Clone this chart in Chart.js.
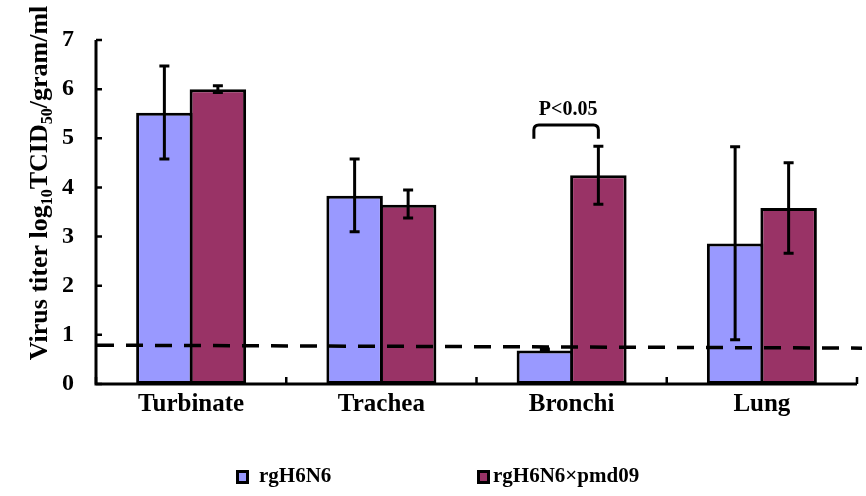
<!DOCTYPE html>
<html>
<head>
<meta charset="utf-8">
<title>Virus titer</title>
<script src="https://cdn.jsdelivr.net/npm/chart.js@4.4.1/dist/chart.umd.min.js"></script>
<style>
  html, body { margin: 0; padding: 0; background: #fff; }
  canvas { display: block; }
</style>
</head>
<body>
<canvas id="titerChart" width="866" height="496"></canvas>
<script>
// data
const categories = ["Turbinate", "Trachea", "Bronchi", "Lung"];
const seriesNames = ["rgH6N6", "rgH6N6\u00d7pmd09"];

const rgH6N6 = [5.52, 3.83, 0.68, 2.86];
const rgH6N6Low = [4.58, 3.10, 0.66, 0.90];
const rgH6N6High = [6.47, 4.58, 0.71, 4.83];

const pmd09 = [6.00, 3.65, 4.25, 3.58];
const pmd09Low = [5.93, 3.38, 3.66, 2.66];
const pmd09High = [6.07, 3.95, 4.84, 4.50];

// detection limit line (left end, right end)
const detectionLimit = [0.79, 0.73];

// significance bracket over Bronchi
const sigCategory = 2;
const sigTop = 5.27;
const sigLegs = 4.99;
const sigText = "P<0.05";

const yTicks = [0, 1, 2, 3, 4, 5, 6, 7];

const colors = ["#9999ff", "#993366"];
const serif = "'Liberation Serif', 'Times New Roman', serif";

const errorLows = [rgH6N6Low, pmd09Low];
const errorHighs = [rgH6N6High, pmd09High];

// -------------------------------
// plugin: error bars, dashed limit, bracket, axes, legend, y title
// -------------------------------
const extrasPlugin = {
  id: "extras",
  afterDatasetsDraw(chart) {
    const ctx = chart.ctx;
    const y = chart.scales.y;
    const x = chart.scales.x;
    const area = chart.chartArea;

    ctx.save();
    ctx.strokeStyle = "#000";
    ctx.lineCap = "butt";

    // error bars
    chart.data.datasets.forEach((ds, di) => {
      const meta = chart.getDatasetMeta(di);
      meta.data.forEach((bar, i) => {
        const yLo = y.getPixelForValue(errorLows[di][i]);
        const yHi = y.getPixelForValue(errorHighs[di][i]);
        ctx.lineWidth = 3;
        ctx.beginPath();
        ctx.moveTo(bar.x, yLo);
        ctx.lineTo(bar.x, yHi);
        ctx.stroke();
        ctx.beginPath();
        ctx.moveTo(bar.x - 5, yLo);
        ctx.lineTo(bar.x + 5, yLo);
        ctx.moveTo(bar.x - 5, yHi);
        ctx.lineTo(bar.x + 5, yHi);
        ctx.stroke();
      });
    });

    // dashed detection limit
    ctx.lineWidth = 3.5;
    ctx.setLineDash([17, 12]);
    ctx.beginPath();
    ctx.moveTo(area.left + 1, y.getPixelForValue(detectionLimit[0]));
    ctx.lineTo(chart.width - 4, y.getPixelForValue(detectionLimit[1]));
    ctx.stroke();
    ctx.setLineDash([]);

    // bracket
    const b0 = chart.getDatasetMeta(0).data[sigCategory];
    const b1 = chart.getDatasetMeta(1).data[sigCategory];
    const bl = b0.x - 11;
    const br = b1.x;
    const bt = y.getPixelForValue(sigTop);
    const bb = y.getPixelForValue(sigLegs);
    ctx.lineWidth = 3;
    ctx.beginPath();
    ctx.moveTo(bl, bb);
    ctx.lineTo(bl, bt + 5);
    ctx.quadraticCurveTo(bl, bt, bl + 5, bt);
    ctx.lineTo(br - 5, bt);
    ctx.quadraticCurveTo(br, bt, br, bt + 5);
    ctx.lineTo(br, bb);
    ctx.stroke();
    ctx.fillStyle = "#000";
    ctx.font = "bold 20px " + serif;
    ctx.textAlign = "center";
    ctx.textBaseline = "alphabetic";
    ctx.fillText(sigText, (bl + br) / 2 + 2, bt - 10);

    // axes
    ctx.lineWidth = 3;
    ctx.beginPath();
    ctx.moveTo(area.left, area.top);
    ctx.lineTo(area.left, area.bottom);
    ctx.lineTo(area.right, area.bottom);
    ctx.stroke();
    ctx.lineWidth = 2.5;
    ctx.beginPath();
    yTicks.forEach(v => {
      const py = y.getPixelForValue(v);
      ctx.moveTo(area.left, py);
      ctx.lineTo(area.left + 6, py);
    });
    for (let i = 0; i <= categories.length; i++) {
      const px = i < categories.length
        ? x.getPixelForValue(i) - (x.getPixelForValue(1) - x.getPixelForValue(0)) / 2
        : area.right;
      ctx.moveTo(px, area.bottom);
      ctx.lineTo(px, area.bottom - 7);
    }
    ctx.stroke();

    // legend
    const legendX = [236, 477];
    const legendTextX = [259, 493];
    ctx.font = "bold 21px " + serif;
    ctx.textAlign = "left";
    ctx.textBaseline = "middle";
    seriesNames.forEach((name, i) => {
      ctx.fillStyle = "#000";
      ctx.fillRect(legendX[i], 470, 13, 14);
      ctx.fillStyle = colors[i];
      ctx.fillRect(legendX[i] + 3, 473, 7, 8);
      ctx.fillStyle = "#000";
      ctx.fillText(name, legendTextX[i], 477);
    });

    // y title with subscripts
    ctx.translate(38, 183);
    ctx.rotate(-Math.PI / 2);
    const parts = [
      ["Virus titer log", false], ["10", true], ["TCID", false],
      ["50", true], ["/gram/ml", false]
    ];
    const big = "bold 26px " + serif;
    const small = "bold 16px " + serif;
    let total = 0;
    parts.forEach(p => {
      ctx.font = p[1] ? small : big;
      total += ctx.measureText(p[0]).width;
    });
    let cx = -total / 2;
    ctx.textAlign = "left";
    ctx.textBaseline = "alphabetic";
    parts.forEach(p => {
      ctx.font = p[1] ? small : big;
      ctx.fillText(p[0], cx, p[1] ? 14 : 9);
      cx += ctx.measureText(p[0]).width;
    });

    ctx.restore();
  }
};

// -------------------------------
// Chart config
// -------------------------------
const data = {
  labels: categories,
  datasets: [
    {
      label: seriesNames[0],
      data: rgH6N6,
      backgroundColor: colors[0],
      borderColor: "#000",
      borderWidth: 3,
      borderSkipped: false
    },
    {
      label: seriesNames[1],
      data: pmd09,
      backgroundColor: colors[1],
      borderColor: "#000",
      borderWidth: 3,
      borderSkipped: false
    }
  ]
};

const config = {
  type: "bar",
  data: data,
  options: {
    responsive: false,
    animation: false,
    devicePixelRatio: 1,
    layout: {
      padding: { top: 40, right: 9, bottom: 0, left: 0 }
    },
    datasets: {
      bar: { categoryPercentage: 0.5624, barPercentage: 1.056 }
    },
    plugins: {
      legend: { display: false },
      tooltip: { enabled: false }
    },
    scales: {
      x: {
        grid: { display: false, drawTicks: false },
        border: { display: false },
        ticks: {
          color: "#000",
          padding: 6,
          font: { family: serif, size: 25, weight: "bold" }
        },
        afterFit(scale) { scale.height = 112; }
      },
      y: {
        min: 0,
        max: 7,
        grid: { display: false, drawTicks: false },
        border: { display: false },
        ticks: {
          stepSize: 1,
          color: "#000",
          padding: 22,
          font: { family: serif, size: 24, weight: "bold" }
        },
        afterFit(scale) { scale.width = 96; }
      }
    }
  },
  plugins: [extrasPlugin]
};

new Chart(document.getElementById("titerChart"), config);
</script>
</body>
</html>
